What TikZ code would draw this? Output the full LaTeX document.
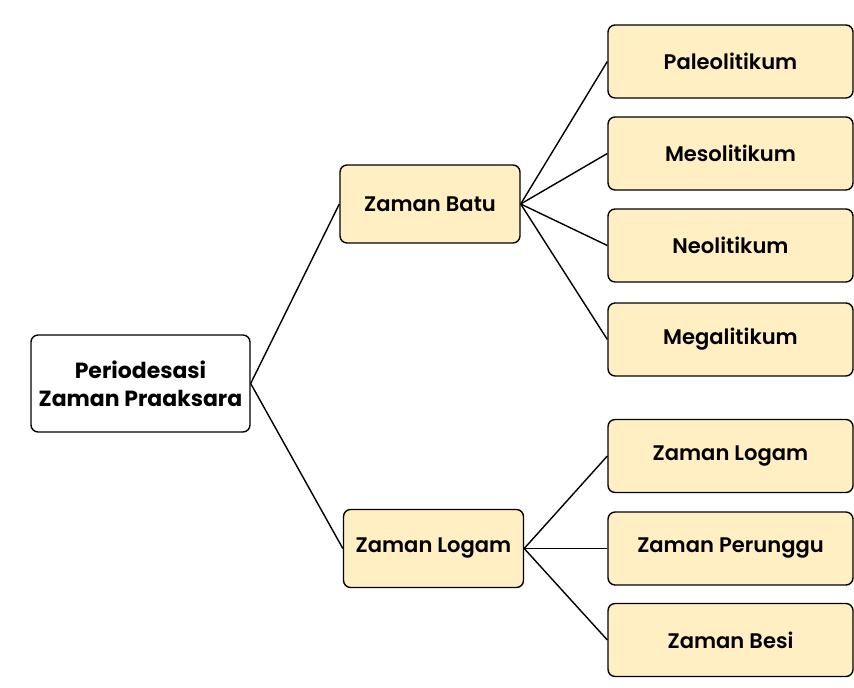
\documentclass[tikz,border=0pt]{standalone}
\usepackage{fontspec}
\setmainfont{Poppins}
\newfontfamily\semifont{Poppins SemiBold}
\usetikzlibrary{positioning}
\definecolor{boxfill}{RGB}{255,239,194}
\tikzset{
  rootbox/.style={draw, thick, rounded corners=4pt, fill=white, minimum width=4.38cm, minimum height=1.94cm, align=center, font=\bfseries\fontsize{12.5}{16}\selectfont},
  erabox/.style={draw, thick, rounded corners=4pt, fill=boxfill, minimum width=3.6cm, minimum height=1.56cm, font=\semifont\large},
  subbox/.style={draw, thick, rounded corners=4pt, fill=boxfill, minimum width=4.9cm, minimum height=1.46cm, font=\semifont\large},
  link/.style={thick},
}

\begin{document}
\begin{tikzpicture}[x=0.02cm, y=-0.02cm]
  \useasboundingbox (0,0) rectangle (854,688);

  \node[rootbox] (root) at (140.5,383.5) {Periodesasi\\Zaman Praaksara};

  \node[erabox] (batu)  at (430,204)   {Zaman Batu};
  \node[erabox] (logam) at (433.5,548.5) {Zaman Logam};

  \node[subbox] (paleo) at (730.5,61.5)  {Paleolitikum};
  \node[subbox] (meso)  at (730.5,153.5) {Mesolitikum};
  \node[subbox] (neo)   at (730.5,245.5) {Neolitikum};
  \node[subbox] (mega)  at (730.5,339.5) {Megalitikum};

  \node[subbox] (zlog)  at (730.5,456)   {Zaman Logam};
  \node[subbox] (perunggu) at (730.5,548.5) {Zaman Perunggu};
  \node[subbox] (besi)  at (730.5,640)   {Zaman Besi};

  \draw[link] (root.east) -- (batu.west);
  \draw[link] (root.east) -- (logam.west);

  \foreach \n in {paleo,meso,neo,mega}
    \draw[link] (batu.east) -- (\n.west);
  \foreach \n in {zlog,perunggu,besi}
    \draw[link] (logam.east) -- (\n.west);
\end{tikzpicture}
\end{document}
